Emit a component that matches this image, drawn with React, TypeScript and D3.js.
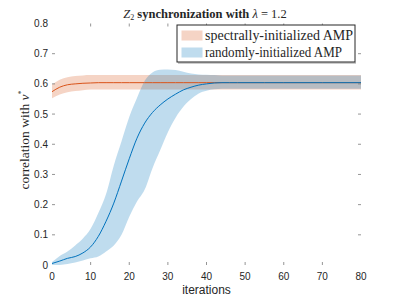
import React from "react";
import * as d3 from "d3";

const iterations = [0, 2, 4, 6, 8, 10, 12, 14, 16, 18, 20, 22, 24, 26, 28, 30, 32, 34, 36, 38, 40, 42, 44, 46, 48, 55, 60, 70, 80];

const randomMean = [0.005, 0.013, 0.022, 0.028, 0.04, 0.06, 0.095, 0.145, 0.205, 0.278, 0.352, 0.42, 0.47, 0.505, 0.53, 0.55, 0.566, 0.58, 0.589, 0.596, 0.6, 0.603, 0.604, 0.604, 0.604, 0.604, 0.604, 0.604, 0.604];
const randomUpper = [0.01, 0.03, 0.045, 0.065, 0.088, 0.12, 0.172, 0.235, 0.33, 0.41, 0.49, 0.553, 0.61, 0.638, 0.647, 0.648, 0.646, 0.64, 0.634, 0.631, 0.63, 0.629, 0.628, 0.628, 0.628, 0.628, 0.628, 0.628, 0.628];
const randomLower = [0.0, 0.0, 0.003, 0.008, 0.015, 0.022, 0.028, 0.045, 0.065, 0.1, 0.16, 0.21, 0.25, 0.32, 0.38, 0.44, 0.488, 0.524, 0.55, 0.568, 0.577, 0.582, 0.584, 0.584, 0.584, 0.584, 0.584, 0.584, 0.584];

const spectralMean = [0.574, 0.589, 0.597, 0.6, 0.602, 0.603, 0.604, 0.604, 0.604, 0.604, 0.604, 0.604, 0.604, 0.604, 0.604, 0.604, 0.604, 0.604, 0.604, 0.604, 0.604, 0.604, 0.604, 0.604, 0.604, 0.604, 0.604, 0.604, 0.604];
const spectralUpper = [0.598, 0.614, 0.622, 0.626, 0.628, 0.629, 0.629, 0.629, 0.629, 0.629, 0.629, 0.629, 0.629, 0.629, 0.629, 0.629, 0.629, 0.629, 0.629, 0.629, 0.629, 0.629, 0.629, 0.629, 0.629, 0.629, 0.629, 0.629, 0.629];
const spectralLower = [0.552, 0.565, 0.572, 0.576, 0.579, 0.581, 0.581, 0.581, 0.581, 0.581, 0.581, 0.581, 0.581, 0.581, 0.581, 0.581, 0.581, 0.581, 0.581, 0.581, 0.581, 0.581, 0.581, 0.581, 0.581, 0.581, 0.581, 0.581, 0.581];

const xTicks = [0, 10, 20, 30, 40, 50, 60, 70, 80];
const yTicks = [0, 0.1, 0.2, 0.3, 0.4, 0.5, 0.6, 0.7, 0.8];
const legendLabels = ["spectrally-initialized AMP", "randomly-initialized AMP"];

const RED = "#D95319";
const BLUE = "#0072BD";

export default function App() {
  const W = 399, H = 299;
  const x0 = 52, x1 = 361, yTop = 23.5, yBot = 265;
  const x = d3.scaleLinear().domain([0, 80]).range([x0, x1]);
  const y = d3.scaleLinear().domain([0, 0.8]).range([yBot, yTop]);

  const area = (lo: number[], hi: number[]) =>
    d3.area<number>()
      .x((_, i) => x(iterations[i]))
      .y0((_, i) => y(lo[i]))
      .y1((_, i) => y(hi[i]))
      .curve(d3.curveMonotoneX)(iterations as any) || "";
  const line = (v: number[]) =>
    d3.line<number>()
      .x((_, i) => x(iterations[i]))
      .y((_, i) => y(v[i]))
      .curve(d3.curveMonotoneX)(iterations as any) || "";

  const tickColor = "#7a7a7a";
  const labelColor = "#262626";
  const sans = "'Liberation Sans', Arial, sans-serif";
  const serif = "'Liberation Serif', 'Times New Roman', serif";

  const innerX = xTicks.filter((t) => t > 0 && t < 80);
  const innerY = yTicks.filter((t) => t > 0 && t < 0.8);

  const lx = 177, ly = 25, lw = 178, lh = 37;

  return (
    <svg width={W} height={H} style={{ position: "absolute", left: 0, top: 0, background: "#fff" }} fontFamily={sans}>
      <rect x={0} y={0} width={W} height={H} fill="#fff" />
      <path d={area(spectralLower, spectralUpper)} fill={RED} fillOpacity={0.25} />
      <path d={area(randomLower, randomUpper)} fill={BLUE} fillOpacity={0.25} />
      <path d={line(spectralMean)} fill="none" stroke={RED} strokeWidth={1} />
      <path d={line(randomMean)} fill="none" stroke={BLUE} strokeWidth={1} />

      <g stroke={tickColor} strokeWidth={0.8}>
        {innerX.map((t) => (
          <g key={"xt" + t}>
            <line x1={x(t)} x2={x(t)} y1={yBot} y2={yBot - 3} />
            <line x1={x(t)} x2={x(t)} y1={yTop} y2={yTop + 3} />
          </g>
        ))}
        {innerY.map((t) => (
          <g key={"yt" + t}>
            <line x1={x0} x2={x0 + 3} y1={y(t)} y2={y(t)} />
            <line x1={x1} x2={x1 - 3} y1={y(t)} y2={y(t)} />
          </g>
        ))}
      </g>

      {xTicks.map((t) => (
        <text key={"xl" + t} x={x(t)} y={280} textAnchor="middle" fontSize={10} fill={labelColor}>
          {t}
        </text>
      ))}
      {yTicks.map((t) => (
        <text key={"yl" + t} x={48} y={y(t)} dy="0.35em" textAnchor="end" fontSize={10} fill={labelColor}>
          {t === 0 ? "0" : t.toFixed(1)}
        </text>
      ))}

      <text x={206.5} y={294} textAnchor="middle" fontSize={12} fill={labelColor}>iterations</text>
      <text transform={`translate(29, 140) rotate(-90)`} textAnchor="middle" fontSize={13.5} fontFamily={serif} fill={labelColor}>
        correlation with <tspan fontStyle="italic">v</tspan><tspan fontSize={8} dy={-5}>*</tspan>
      </text>

      <text x={205} y={18} textAnchor="middle" fontSize={12.5} fontFamily={serif} fill={labelColor}>
        <tspan fontStyle="italic">Z</tspan><tspan fontSize={8} dy={2}>2</tspan>
        <tspan dy={-2} fontWeight="bold"> synchronization with </tspan>
        <tspan fontStyle="italic">λ</tspan><tspan> = 1.2</tspan>
      </text>

      <line x1={lx + 1} x2={lx + lw + 1} y1={ly + lh + 1} y2={ly + lh + 1} stroke="#9a9a9a" strokeWidth={1} />
      <rect x={lx} y={ly} width={lw} height={lh} fill="#fff" stroke="#262626" strokeWidth={1} />
      {legendLabels.map((lab, i) => (
        <g key={lab}>
          <rect x={181.5} y={30.5 + i * 17} width={21} height={10} fill={i === 0 ? RED : BLUE} fillOpacity={0.25} />
          <text x={205} y={35.5 + i * 17} dy="0.35em" fontSize={14} fontFamily={serif} fill={labelColor}
            textLength={i === 0 ? 148 : 137} lengthAdjust="spacingAndGlyphs">{lab}</text>
        </g>
      ))}
    </svg>
  );
}
